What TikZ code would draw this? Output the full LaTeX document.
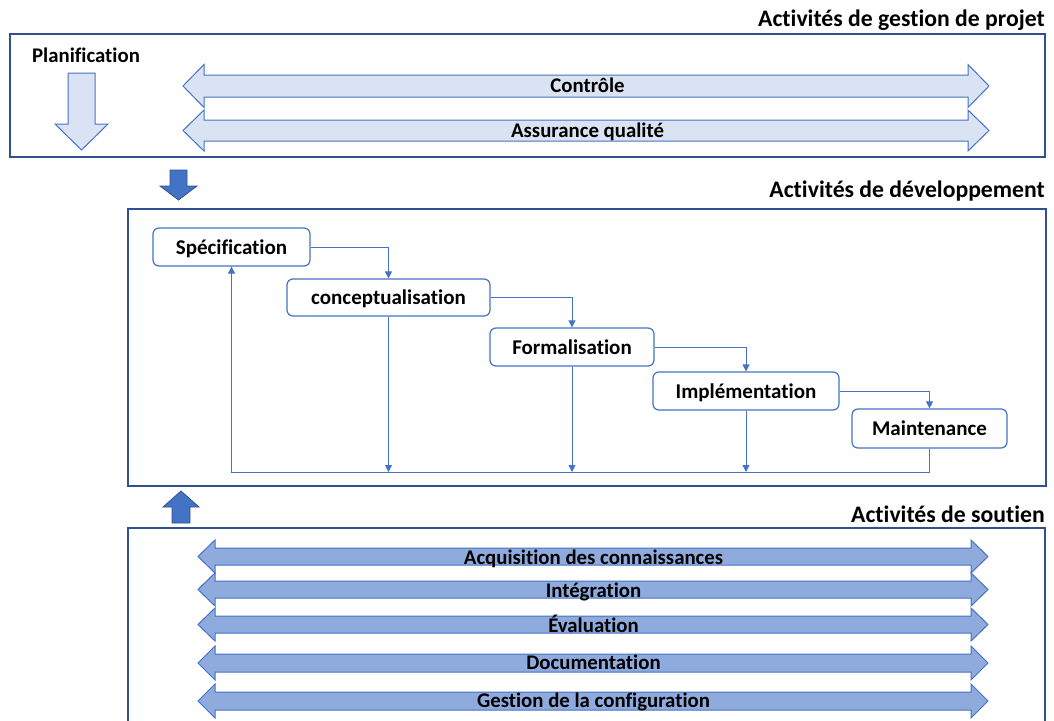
\documentclass[tikz,border=0pt]{standalone}
\usepackage{fontspec}
\setmainfont{Carlito}[Ligatures=NoCommon]
\usetikzlibrary{arrows.meta}

\definecolor{officeblue}{HTML}{4472C4}
\definecolor{lightblue}{HTML}{DAE3F3}
\definecolor{midblue}{HTML}{8FAADC}
\definecolor{frameblue}{HTML}{2F528F}

% wide two-headed band: fill, centre y, shaft half, head half, left tip, right tip, head length
\newcommand{\bandarrow}[7]{%
  \draw[draw=officeblue, line width=1pt, fill=#1]
    (#5,#2) -- (#5+#7,#2-#4) -- (#5+#7,#2-#3) -- (#6-#7,#2-#3) -- (#6-#7,#2-#4)
    -- (#6,#2) -- (#6-#7,#2+#4) -- (#6-#7,#2+#3) -- (#5+#7,#2+#3) -- (#5+#7,#2+#4) -- cycle;}

\begin{document}
\begin{tikzpicture}[x=1pt, y=-1pt,
		frame/.style={draw=frameblue, line width=1.2pt},
		title/.style={anchor=base east, inner sep=0pt, font=\bfseries\fontsize{23.7}{28}\selectfont},
		bandlabel/.style={anchor=base, inner sep=0pt, font=\bfseries\fontsize{20.8}{25}\selectfont},
		stage/.style={rectangle, rounded corners=6pt, draw=officeblue, line width=1.2pt, fill=white,
			minimum height=38pt, inner sep=0pt, text height=16pt, text depth=2pt,
			font=\bfseries\fontsize{21}{25}\selectfont},
		flow/.style={draw=officeblue, line width=0.8pt, -{Triangle[length=7pt,width=7pt]}}
		]
	\useasboundingbox (0,0) rectangle (1054,720);

	% gestion de projet
	\node [title] (gestion) at (1045,26) {Activités de gestion de projet};
	\draw [frame] (10,34) rectangle (1045,157);
	\node [bandlabel] (planif) at (86,62) {Planification};
	\draw [draw=officeblue, line width=1pt, fill=lightblue]
		(68,73) -- (95,73) -- (95,124) -- (108,124) -- (81.5,150) -- (55,124) -- (68,124) -- cycle;
	\bandarrow{lightblue}{86}{11}{21.5}{183}{989}{21}
	\bandarrow{lightblue}{130.5}{10.5}{20.5}{183}{989}{21}
	\node [bandlabel] (controle) at (587.5,92) {Contrôle};
	\node [bandlabel] (qualite) at (587.5,137) {Assurance qualité};

	\draw [draw=frameblue, line width=0.8pt, fill=officeblue]
		(170,170) -- (187,170) -- (187,186) -- (197,186) -- (178.5,200) -- (160,186) -- (170,186) -- cycle;

	% developpement
	\node [title] (dev) at (1045,197) {Activités de développement};
	\draw [frame] (128,209) rectangle (1046,486);
	\node [stage, minimum width=157pt] (spec) at (231.5,247) {Spécification};
	\node [stage, minimum width=203pt, minimum height=37pt] (concept) at (388.5,297.5) {conceptualisation};
	\node [stage, minimum width=164pt] (formal) at (572,347) {Formalisation};
	\node [stage, minimum width=186pt] (impl) at (746,391) {Implémentation};
	\node [stage, minimum width=155pt, minimum height=39pt] (maint) at (929.5,428.5) {Maintenance};
	\coordinate (loop) at (0,472);

	\draw [flow] (spec.east) -| (concept.north);
	\draw [flow] (concept.east) -| (formal.north);
	\draw [flow] (formal.east) -| (impl.north);
	\draw [flow] (impl.east) -| (maint.north);
	\draw [flow] (maint.south) -- (maint.south |- loop) -| (spec.south);
	\draw [flow] (concept.south) -- (concept.south |- loop);
	\draw [flow] (formal.south) -- (formal.south |- loop);
	\draw [flow] (impl.south) -- (impl.south |- loop);

	\draw [draw=frameblue, line width=0.8pt, fill=officeblue]
		(172,523) -- (190,523) -- (190,507) -- (199,507) -- (181,491) -- (163,507) -- (172,507) -- cycle;

	% soutien
	\node [title] (soutien) at (1045,522) {Activités de soutien};
	\draw [frame] (128,740) -- (128,528) -- (1045,528) -- (1045,740);
	\bandarrow{midblue}{556.5}{8.5}{16.5}{198}{988}{17}
	\bandarrow{midblue}{589.5}{8.5}{16.5}{198}{988}{17}
	\bandarrow{midblue}{624.5}{8.5}{16.5}{198}{988}{17}
	\bandarrow{midblue}{663}{9}{17}{198}{988}{17}
	\bandarrow{midblue}{701}{9}{17}{198}{988}{17}
	\node [bandlabel] (acquis) at (593.5,564) {Acquisition des connaissances};
	\node [bandlabel] (integ) at (593.5,597) {Intégration};
	\node [bandlabel] (eval) at (593.5,632) {Évaluation};
	\node [bandlabel] (doc) at (593.5,669) {Documentation};
	\node [bandlabel] (config) at (593.5,707) {Gestion de la configuration};
\end{tikzpicture}
\end{document}
